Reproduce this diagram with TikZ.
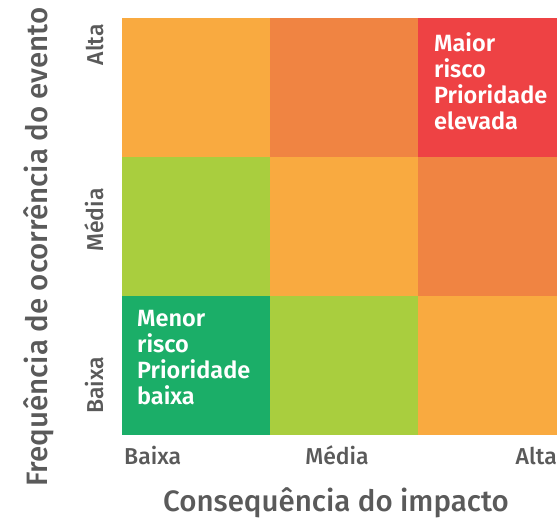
\documentclass[tikz,border=0pt]{standalone}
\usepackage{fontspec}
\setmainfont{Fira Sans}
\newfontfamily\labelfont{Fira Sans Medium}
\newfontfamily\cellfont{Fira Sans SemiBold}
\usetikzlibrary{positioning}
\definecolor{lowgreen}{HTML}{1BAE68}
\definecolor{limegreen}{HTML}{A9CE3E}
\definecolor{lightorange}{HTML}{F9AA40}
\definecolor{darkorange}{HTML}{F08442}
\definecolor{highred}{HTML}{EE4244}
\definecolor{labelgray}{HTML}{5A5A5A}

\begin{document}
\begin{tikzpicture}[x=1pt, y=-1pt,
    cell/.style={minimum width=148pt, minimum height=139pt, inner sep=0pt, outer sep=0pt, anchor=north west},
    lastcell/.style={cell, minimum width=139pt},
    celltext/.style={text=white, font=\cellfont\fontsize{23.5}{26}\selectfont, align=left,
                     anchor=north west, inner sep=0pt},
    tick/.style={text=labelgray, font=\labelfont\fontsize{23}{25}\selectfont, inner sep=0pt},
    axis/.style={text=labelgray, font=\labelfont\fontsize{29.5}{31}\selectfont, inner sep=0pt}
  ]
  \useasboundingbox (0,0) rectangle (558,522);

  % matrix cells, top row first
  \node[cell, fill=lightorange] (c11) at (122,18) {};
  \node[cell, fill=darkorange, right=0pt of c11] (c12) {};
  \node[lastcell, fill=highred, right=0pt of c12] (c13) {};
  \node[cell, fill=limegreen, below=0pt of c11] (c21) {};
  \node[cell, fill=lightorange, right=0pt of c21] (c22) {};
  \node[lastcell, fill=darkorange, right=0pt of c22] (c23) {};
  \node[cell, fill=lowgreen, below=0pt of c21] (c31) {};
  \node[cell, fill=limegreen, right=0pt of c31] (c32) {};
  \node[lastcell, fill=lightorange, right=0pt of c32] (c33) {};

  \node[celltext] (high) at ([shift={(16,14)}]c13.north west) {Maior\\risco\\Prioridade\\elevada};
  \node[celltext] (low) at ([shift={(15,14)}]c31.north west) {Menor\\risco\\Prioridade\\baixa};

  % axis ticks
  \node[tick, anchor=base west] (xlow) at (124,464) {Baixa};
  \node[tick, anchor=base] (xmid) at (337,464) {Média};
  \node[tick, anchor=base east] (xhigh) at (557,464) {Alta};
  \node[tick, rotate=90, anchor=base east] (yhigh) at (103,24) {Alta};
  \node[tick, rotate=90, anchor=base] (ymid) at (103,220) {Média};
  \node[tick, rotate=90, anchor=base west] (ylow) at (103,414) {Baixa};

  % axis titles
  \node[axis, anchor=base] (xtitle) at (336,511) {Consequência do impacto};
  \node[axis, rotate=90, anchor=base] (ytitle) at (47,247) {Frequência de ocorrência do evento};
\end{tikzpicture}
\end{document}
